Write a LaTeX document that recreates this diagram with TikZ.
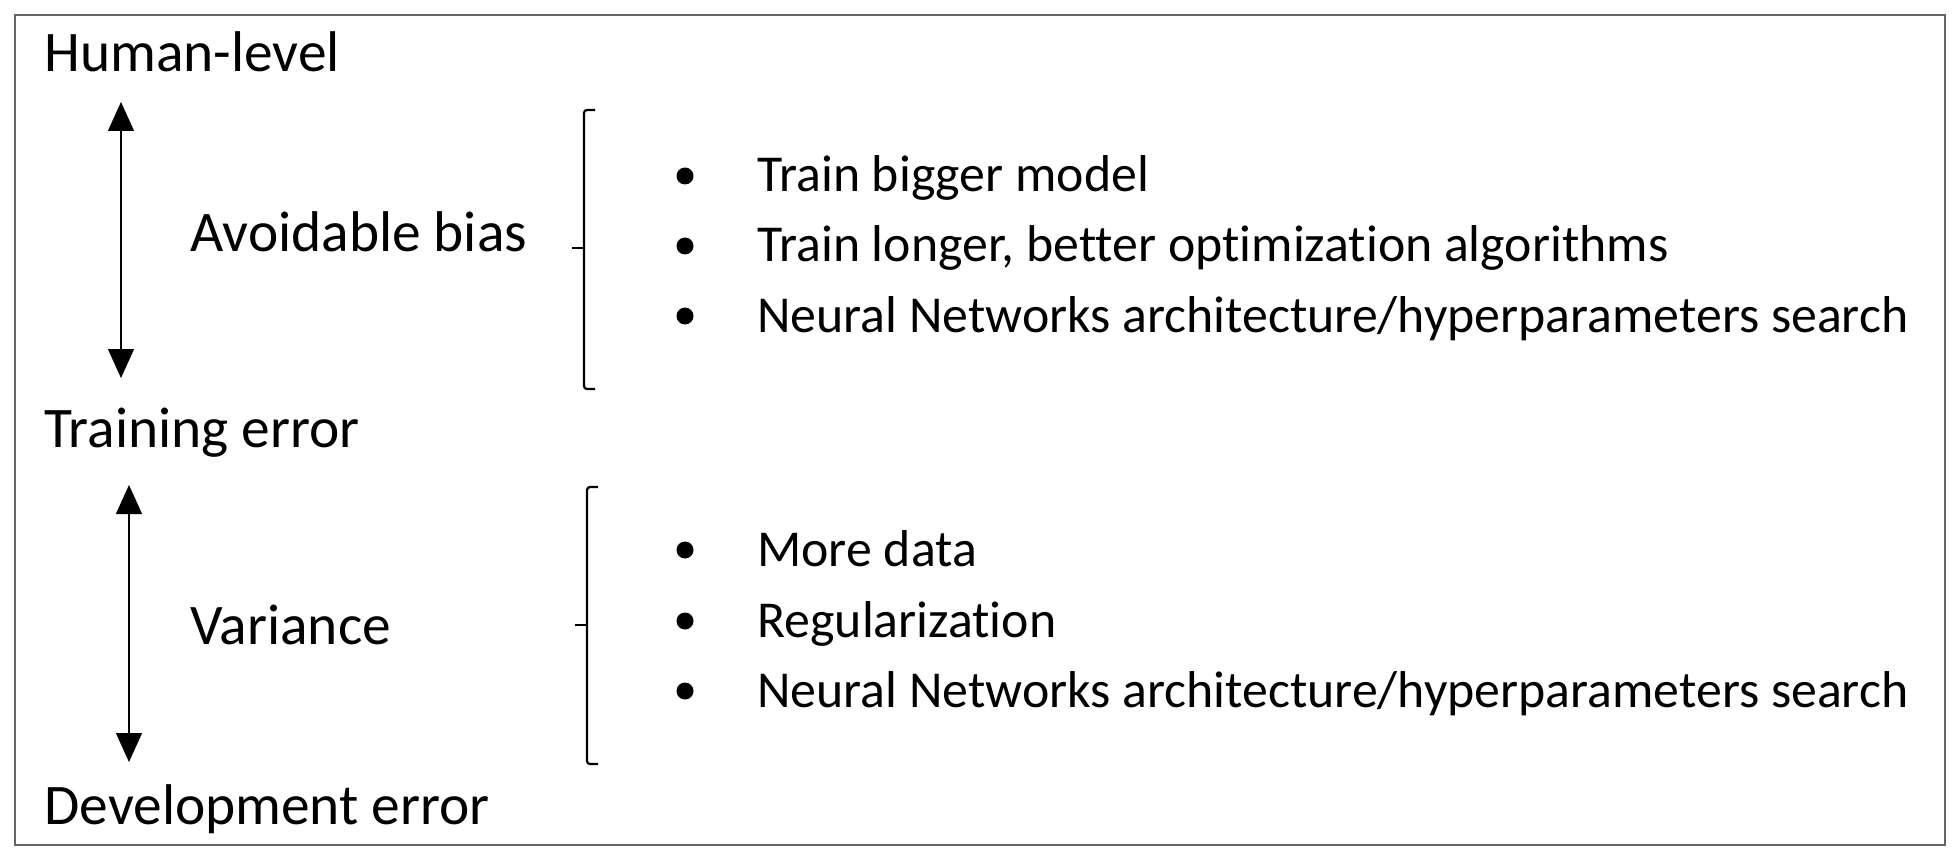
\documentclass[tikz,border=0pt]{standalone}
\usepackage{fontspec}
\setmainfont{Carlito}[Ligatures=NoCommon]
\usetikzlibrary{arrows.meta}
\begin{document}
\begin{tikzpicture}[x=0.5pt,y=-0.5pt,
frame/.style={draw=black!60,line width=1.4pt},
level/.style={anchor=base west,inner sep=0pt,font=\fontsize{28.7}{34}\selectfont},
item/.style={anchor=base west,inner sep=0pt,font=\fontsize{25.9}{31}\selectfont},
dot/.style={circle,fill=black,inner sep=0pt,minimum size=8.5pt},
span/.style={draw=black,line width=0.6pt,{Triangle[width=13pt,length=14.5pt]}-{Triangle[width=13pt,length=14.5pt]}},
brace/.style={draw=black,line width=1.1pt,rounded corners=1.5pt}]
\path[use as bounding box] (0,0) rectangle (1959,861);
\draw[frame] (15,15) rectangle (1945,845);
% error levels
\node[level] (human) at (44,72) {Human-level};
\node[level] (train) at (44,447) {Training error};
\node[level] (dev) at (44,824) {Development error};
% gaps between them
\node[level] (bias) at (190,252) {Avoidable bias};
\node[level] (var) at (190,644) {Variance};
\coordinate (biasTop) at (121,102);
\coordinate (biasBot) at (121,378);
\draw[span] (biasTop) -- (biasBot);
\coordinate (varTop) at (129,485);
\coordinate (varBot) at (129,762);
\draw[span] (varTop) -- (varBot);
% brackets
\draw[brace] (595,110) -- (584,110) -- (584,389) -- (595,389);
\draw[brace] (584,248) -- (572,248);
\draw[brace] (598,487) -- (587,487) -- (587,764) -- (598,764);
\draw[brace] (587,625) -- (575,625);
% bias remedies
\node[dot] (b1) at (685,176) {};
\node[item] (t1) at (757,192) {Train bigger model};
\node[dot] (b2) at (685,246) {};
\node[item] (t2) at (757,262) {Train longer, better optimization algorithms};
\node[dot] (b3) at (685,316) {};
\node[item] (t3) at (757,332) {Neural Networks architecture/hyperparameters search};
% variance remedies
\node[dot] (b4) at (685,550) {};
\node[item] (t4) at (757,566) {More data};
\node[dot] (b5) at (685,621) {};
\node[item] (t5) at (757,637) {Regularization};
\node[dot] (b6) at (685,691) {};
\node[item] (t6) at (757,707) {Neural Networks architecture/hyperparameters search};
\end{tikzpicture}
\end{document}
